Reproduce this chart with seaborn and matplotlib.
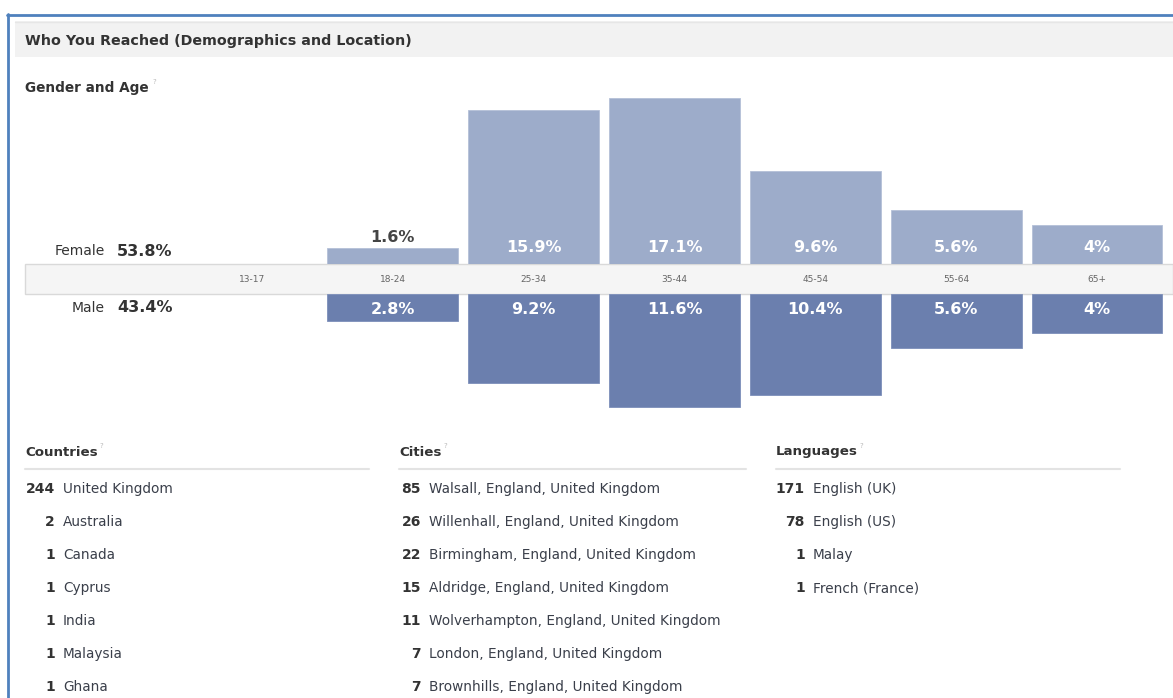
import matplotlib
matplotlib.use("Agg")
import matplotlib.pyplot as plt
from matplotlib.patches import Rectangle
import pandas as pd
import seaborn as sns

# ---- data ---- #
age_groups = ["13-17", "18-24", "25-34", "35-44", "45-54", "55-64", "65+"]
bar_ages = ["18-24", "25-34", "35-44", "45-54", "55-64", "65+"]
female_pct = [1.6, 15.9, 17.1, 9.6, 5.6, 4]
male_pct = [2.8, 9.2, 11.6, 10.4, 5.6, 4]
female_total = "53.8%"
male_total = "43.4%"

countries = ["United Kingdom", "Australia", "Canada", "Cyprus", "India", "Malaysia", "Ghana"]
country_counts = [244, 2, 1, 1, 1, 1, 1]
cities = ["Walsall, England, United Kingdom", "Willenhall, England, United Kingdom",
          "Birmingham, England, United Kingdom", "Aldridge, England, United Kingdom",
          "Wolverhampton, England, United Kingdom", "London, England, United Kingdom",
          "Brownhills, England, United Kingdom"]
city_counts = [85, 26, 22, 15, 11, 7, 7]
languages = ["English (UK)", "English (US)", "Malay", "French (France)"]
language_counts = [171, 78, 1, 1]

sns.set_style("white")
plt.rcParams["font.family"] = ["DejaVu Sans"]

W, H = 1173, 698
PX_PER_PCT = 9.7
FEMALE_C = "#9dacca"
MALE_C = "#6b7fae"
TXT = "#333333"

fig = plt.figure(figsize=(W / 100, H / 100), dpi=100)
fig.patch.set_facecolor("white")


def px_axes(x0, y0, x1, y1):
    return fig.add_axes([x0 / W, 1 - y1 / H, (x1 - x0) / W, (y1 - y0) / H])


# background layer in pixel coordinates for the page furniture
bg = px_axes(0, 0, W, H)
bg.set_xlim(0, W)
bg.set_ylim(H, 0)
bg.axis("off")

bg.plot([7.5, 7.5], [14, H], color="#4f81bd", lw=2)
bg.plot([7, W], [14.5, 14.5], color="#4f81bd", lw=2)
bg.add_patch(Rectangle((15, 21), W - 15, 36, facecolor="#f2f2f2", edgecolor="none"))
bg.plot([15, W], [21.5, 21.5], color="#e6e6e6", lw=1)
bg.text(25, 41, "Who You Reached (Demographics and Location)", fontsize=10.3,
        fontweight="bold", color=TXT, va="center")
bg.text(25, 88, "Gender and Age", fontsize=9.8, fontweight="bold", color=TXT, va="center")
bg.text(152, 82, "?", fontsize=5, color="#bbbbbb", va="center")

# band with the age labels
bg.add_patch(Rectangle((25, 264), W - 25, 30, facecolor="#f5f5f5",
                       edgecolor="#d9d9d9", lw=1, zorder=3))

# ---- bars ---- #
x0, x1 = 181.6, 1167.4
ax_f = px_axes(x0, 89, x1, 264)
ax_m = px_axes(x0, 294, x1, 425)

fem = pd.DataFrame({"age": bar_ages, "pct": female_pct})
mal = pd.DataFrame({"age": bar_ages, "pct": male_pct})

sns.barplot(data=fem, x="age", y="pct", order=age_groups, color=FEMALE_C,
            saturation=1, width=0.93, errorbar=None, ax=ax_f, edgecolor="#b4c0d8", linewidth=0.6)
sns.barplot(data=mal, x="age", y="pct", order=age_groups, color=MALE_C,
            saturation=1, width=0.93, errorbar=None, ax=ax_m, edgecolor="#7d8fba", linewidth=0.6)

ax_f.set_xlim(-0.5, 6.5)
ax_m.set_xlim(-0.5, 6.5)
ax_f.set_ylim(0, 175 / PX_PER_PCT)
ax_m.set_ylim(131 / PX_PER_PCT, 0)
for ax in (ax_f, ax_m):
    ax.axis("off")
    ax.patch.set_alpha(0)

for age, v in zip(bar_ages, female_pct):
    i = age_groups.index(age)
    lab = f"{v:g}%"
    if v * PX_PER_PCT > 30:
        ax_f.text(i, 17 / PX_PER_PCT, lab, ha="center", va="center", color="white",
                  fontsize=11.5, fontweight="bold")
    else:
        ax_f.text(i, v + 1.15, lab, ha="center", va="center", color="#444444",
                  fontsize=11.5, fontweight="bold")

for age, v in zip(bar_ages, male_pct):
    i = age_groups.index(age)
    ax_m.text(i, 15 / PX_PER_PCT, f"{v:g}%", ha="center", va="center", color="white",
              fontsize=11.5, fontweight="bold")

# age labels inside the band
for i, age in enumerate(age_groups):
    xp = x0 + (i + 0.5) * (x1 - x0) / len(age_groups)
    bg.text(xp, 280, age, ha="center", va="center", fontsize=6.5, color="#666666", zorder=4)

# gender totals
bg.text(105, 251, "Female", ha="right", va="center", fontsize=10, color=TXT)
bg.text(117, 251, female_total, ha="left", va="center", fontsize=11.5, fontweight="bold", color=TXT)
bg.text(105, 308, "Male", ha="right", va="center", fontsize=10, color=TXT)
bg.text(117, 308, male_total, ha="left", va="center", fontsize=11.5, fontweight="bold", color=TXT)

# ---- lists ---- #
columns = [
    ("Countries", 25, 369, 55, countries, country_counts),
    ("Cities", 399, 746, 421, cities, city_counts),
    ("Languages", 776, 1120, 805, languages, language_counts),
]
for title, left, right, num_right, names, counts in columns:
    t = bg.text(left, 452, title, fontsize=9.6, fontweight="bold", color=TXT, va="center")
    fig.canvas.draw()
    bb = t.get_window_extent()
    bg.text(bb.x1 + 2, 446, "?", fontsize=5, color="#bbbbbb", va="center")
    bg.plot([left, right], [469, 469], color="#e3e3e3", lw=1.5)
    for r, (n, c) in enumerate(zip(names, counts)):
        y = 489 + 33 * r
        bg.text(num_right, y, str(c), ha="right", va="center", fontsize=10,
                fontweight="bold", color=TXT)
        bg.text(num_right + 8, y, n, ha="left", va="center", fontsize=9.8, color="#3a3f4a")

fig.savefig("out.png", dpi=100, facecolor="white")
